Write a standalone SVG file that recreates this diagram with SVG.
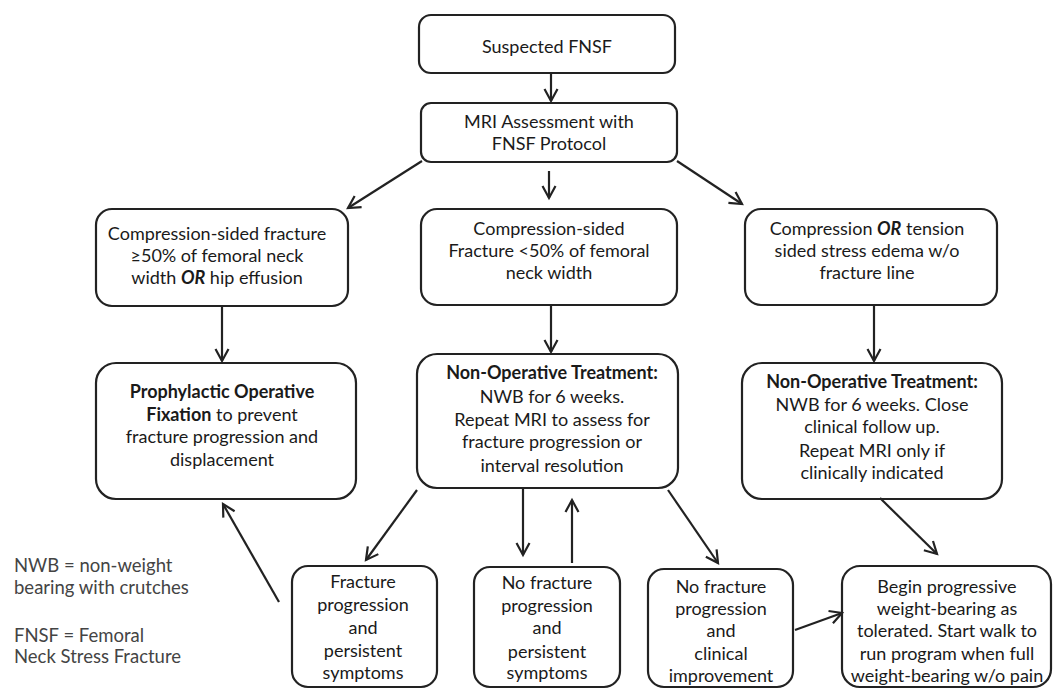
<svg xmlns="http://www.w3.org/2000/svg" width="1054" height="689" viewBox="0 0 1054 689">
<style>
.box{fill:#fff;stroke:#222;stroke-width:2.2}
.t{font-family:Lato,"Liberation Sans",sans-serif;font-size:18px;fill:#1a1a1a;text-anchor:middle}
.b{font-weight:bold}
.bi{font-weight:bold;font-style:italic}
.lg{font-family:Lato,"Liberation Sans",sans-serif;font-size:18.5px;fill:#444}
.c line{stroke:#222;stroke-width:2.2;marker-end:url(#ah)}
</style>
<defs>
<marker id="ah" markerUnits="userSpaceOnUse" markerWidth="16" markerHeight="16" refX="13" refY="8" orient="auto" viewBox="0 0 16 16">
<path d="M1,1.5 L13,8 L1,14.5" fill="none" stroke="#222" stroke-width="2.2"/>
</marker>
</defs>
<rect width="1054" height="689" fill="#fff"/>
<g id="n1"><rect class="box" x="419" y="15" width="256" height="58" rx="12"/>
<text class="t" x="547" y="53">Suspected FNSF</text></g>
<g id="n2"><rect class="box" x="421" y="103" width="256" height="59" rx="10"/>
<text class="t" x="549" y="128">MRI Assessment with</text>
<text class="t" x="549" y="150">FNSF Protocol</text></g>
<g id="n3"><rect class="box" x="96" y="209" width="252" height="97" rx="16"/>
<text class="t" x="217" y="240">Compression-sided fracture</text>
<text class="t" x="217" y="262">≥50% of femoral neck</text>
<text class="t" x="217" y="284">width <tspan class="bi">OR</tspan> hip effusion</text></g>
<g id="n4"><rect class="box" x="421" y="209" width="256" height="96" rx="16"/>
<text class="t" x="549" y="235">Compression-sided</text>
<text class="t" x="549" y="257">Fracture &lt;50% of femoral</text>
<text class="t" x="549" y="279">neck width</text></g>
<g id="n5"><rect class="box" x="745" y="209" width="252" height="96" rx="16"/>
<text class="t" x="867" y="235">Compression <tspan class="bi">OR</tspan> tension</text>
<text class="t" x="867" y="257">sided stress edema w/o</text>
<text class="t" x="867" y="279">fracture line</text></g>
<g id="n6"><rect class="box" x="96" y="363" width="260" height="136" rx="20"/>
<text class="t b" x="222" y="398">Prophylactic Operative</text>
<text class="t" x="222" y="421"><tspan class="b">Fixation</tspan> to prevent</text>
<text class="t" x="222" y="443">fracture progression and</text>
<text class="t" x="222" y="466">displacement</text></g>
<g id="n7"><rect class="box" x="417" y="354" width="261" height="134" rx="20"/>
<text class="t b" x="552" y="379">Non-Operative Treatment:</text>
<text class="t" x="552" y="403">NWB for 6 weeks.</text>
<text class="t" x="552" y="426">Repeat MRI to assess for</text>
<text class="t" x="552" y="448">fracture progression or</text>
<text class="t" x="552" y="472">interval resolution</text></g>
<g id="n8"><rect class="box" x="742" y="363" width="260" height="136" rx="20"/>
<text class="t b" x="872" y="388">Non-Operative Treatment:</text>
<text class="t" x="872" y="411">NWB for 6 weeks. Close</text>
<text class="t" x="872" y="433">clinical follow up.</text>
<text class="t" x="872" y="457">Repeat MRI only if</text>
<text class="t" x="872" y="479">clinically indicated</text></g>
<g id="n9"><rect class="box" x="292" y="566" width="145" height="121" rx="16"/>
<text class="t" x="363" y="588">Fracture</text>
<text class="t" x="363" y="611">progression</text>
<text class="t" x="363" y="634">and</text>
<text class="t" x="363" y="657">persistent</text>
<text class="t" x="363" y="679">symptoms</text></g>
<g id="n10"><rect class="box" x="474" y="567" width="146" height="120" rx="16"/>
<text class="t" x="547" y="589">No fracture</text>
<text class="t" x="547" y="612">progression</text>
<text class="t" x="547" y="634">and</text>
<text class="t" x="547" y="658">persistent</text>
<text class="t" x="547" y="679">symptoms</text></g>
<g id="n11"><rect class="box" x="648" y="569" width="145" height="118" rx="16"/>
<text class="t" x="721" y="593">No fracture</text>
<text class="t" x="721" y="615">progression</text>
<text class="t" x="721" y="637">and</text>
<text class="t" x="721" y="660">clinical</text>
<text class="t" x="721" y="682">improvement</text></g>
<g id="n12"><rect class="box" x="842" y="566" width="209" height="121" rx="18"/>
<text class="t" x="947" y="593">Begin progressive</text>
<text class="t" x="947" y="615">weight-bearing as</text>
<text class="t" x="947" y="637">tolerated. Start walk to</text>
<text class="t" x="947" y="660">run program when full</text>
<text class="t" x="947" y="682">weight-bearing w/o pain</text></g>
<g id="legend">
<text class="lg" x="14" y="572">NWB = non-weight</text>
<text class="lg" x="14" y="594">bearing with crutches</text>
<text class="lg" x="14" y="642">FNSF = Femoral</text>
<text class="lg" x="14" y="663">Neck Stress Fracture</text>
</g>
<g id="connectors" class="c">
<line x1="551" y1="73" x2="551" y2="101"/>
<line x1="549" y1="171" x2="549" y2="198"/>
<line x1="422" y1="161" x2="348" y2="208"/>
<line x1="677" y1="161" x2="742" y2="204"/>
<line x1="222" y1="306" x2="222" y2="361"/>
<line x1="551" y1="305" x2="551" y2="352"/>
<line x1="874" y1="305" x2="874" y2="361"/>
<line x1="417" y1="490" x2="366" y2="560"/>
<line x1="523" y1="489" x2="523" y2="555"/>
<line x1="572" y1="563" x2="572" y2="500"/>
<line x1="668" y1="490" x2="718" y2="563"/>
<line x1="880" y1="498" x2="937" y2="554"/>
<line x1="795" y1="630" x2="842" y2="613"/>
<line x1="279" y1="602" x2="223" y2="504"/>
</g>
</svg>
